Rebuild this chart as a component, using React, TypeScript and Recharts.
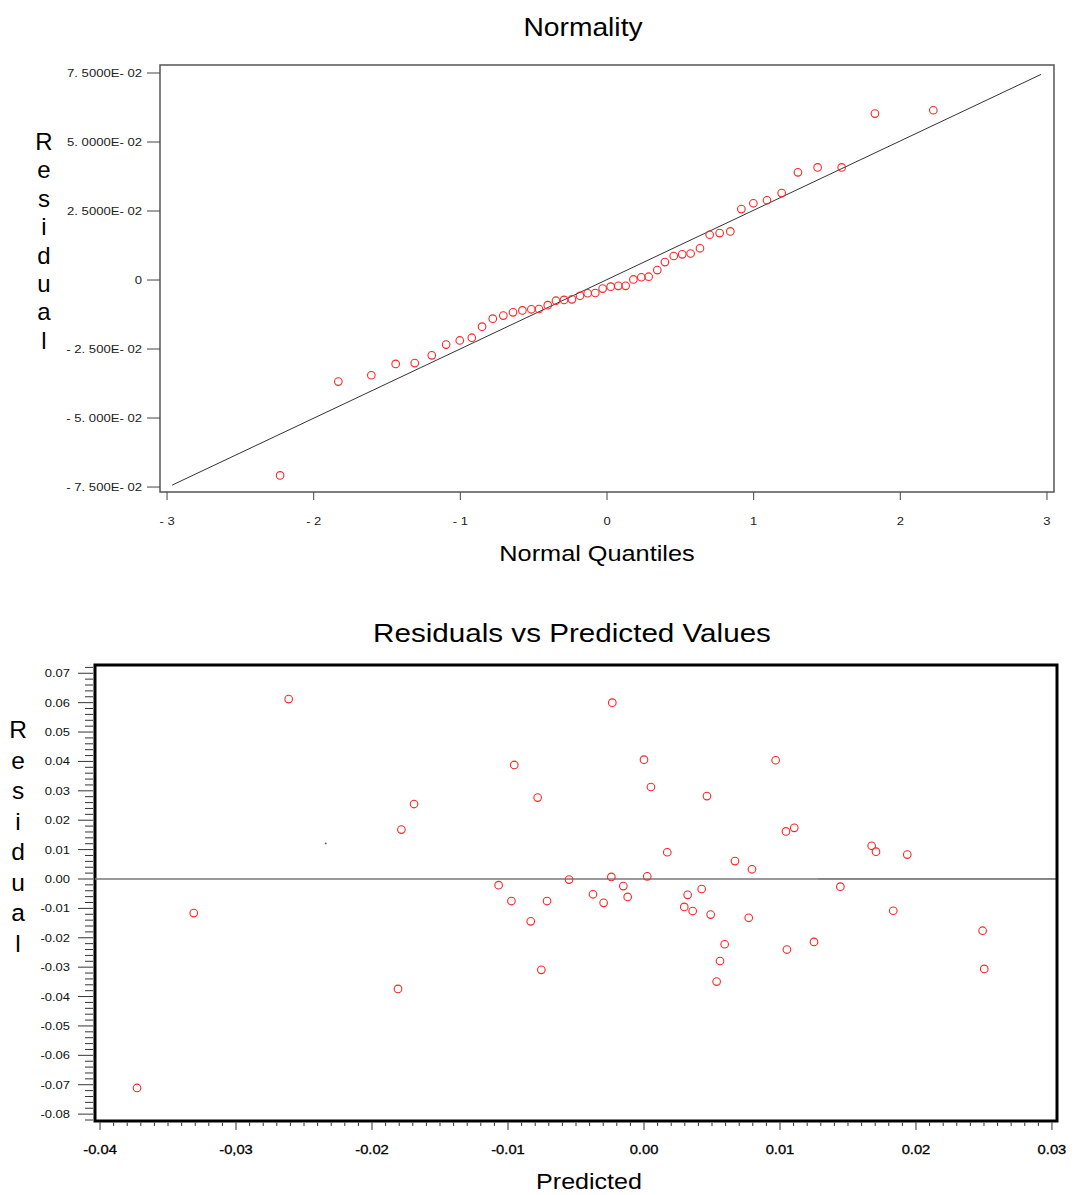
import React from "react";
import { ScatterChart, Scatter, XAxis, YAxis, ReferenceLine, ReferenceArea } from "recharts";

// ---- Normality (normal Q-Q plot) ----
const quantiles = [
  -2.229, -1.832, -1.607, -1.441, -1.311, -1.195, -1.097, -1.004, -0.922, -0.852, -0.779, -0.707,
  -0.641, -0.577, -0.516, -0.464, -0.404, -0.348, -0.293, -0.239, -0.184, -0.132, -0.08, -0.03,
  0.025, 0.077, 0.127, 0.18, 0.234, 0.284, 0.343, 0.395, 0.455, 0.513, 0.57, 0.634,
  0.7, 0.768, 0.841, 0.916, 0.998, 1.091, 1.191, 1.302, 1.436, 1.6, 1.827, 2.225,
];
const qqResiduals = [
  -0.0708, -0.0368, -0.0345, -0.0304, -0.0301, -0.0273, -0.0234, -0.0219, -0.0209, -0.0169, -0.014, -0.0129,
  -0.0117, -0.011, -0.0106, -0.0105, -0.0091, -0.0075, -0.0072, -0.007, -0.0057, -0.0048, -0.0047, -0.0031,
  -0.0024, -0.0021, -0.0021, 0.0002, 0.001, 0.0012, 0.0036, 0.0065, 0.0087, 0.0093, 0.0096, 0.0115,
  0.0164, 0.017, 0.0176, 0.0257, 0.0278, 0.0289, 0.0315, 0.039, 0.0408, 0.0408, 0.0603, 0.0615,
];
const fitLine = [
  { q: -2.965, r: -0.0743 },
  { q: 2.96, r: 0.0745 },
];
const qqXTicks = [-3, -2, -1, 0, 1, 2, 3];
const qqXLabels = ["- 3", "- 2", "- 1", "0", "1", "2", "3"];
const qqYTicks = [0.075, 0.05, 0.025, 0, -0.025, -0.05, -0.075];
const qqYLabels = ["7. 5000E- 02", "5. 0000E- 02", "2. 5000E- 02", "0", "- 2. 500E- 02", "- 5. 000E- 02", "- 7. 500E- 02"];

// ---- Residuals vs Predicted Values ----
const predicted = [
  -0.02613, -0.00954, -0.00782, -0.01691, -0.01784, -0.00551, -0.01069, -0.00975, -0.00713, -0.00833, -0.03311, -0.00755,
  -0.01809, -0.03728, -0.00233, 0.0, 0.00968, 0.00051, 0.00463, 0.01044, 0.01105, 0.01674, 0.01706, 0.01936,
  0.00171, 0.00669, 0.00794, -0.0024, 0.00024, -0.00152, -0.00375, -0.00297, -0.0012, 0.00321, 0.00424, 0.00296,
  0.00358, 0.0049, 0.0077, 0.01444, 0.01833, 0.0249, 0.02502, 0.00593, 0.00559, 0.00534, 0.01051, 0.0125,
];
const residuals = [
  0.0612, 0.0388, 0.0277, 0.0255, 0.0168, -0.0002, -0.0021, -0.0075, -0.0075, -0.0144, -0.0116, -0.0309,
  -0.0374, -0.0711, 0.06, 0.0406, 0.0404, 0.0313, 0.0282, 0.0162, 0.0174, 0.0113, 0.0093, 0.0083,
  0.0091, 0.0061, 0.0033, 0.0007, 0.0009, -0.0024, -0.0052, -0.0081, -0.0061, -0.0054, -0.0034, -0.0095,
  -0.0109, -0.0121, -0.0132, -0.0026, -0.0108, -0.0176, -0.0306, -0.0222, -0.0279, -0.0349, -0.024, -0.0214,
];
const strayMark = [{ p: -0.0234, r: 0.0121 }];
const predXLabels = ["-0.04", "-0,03", "-0.02", "-0.01", "0.00", "0.01", "0.02", "0.03"];
const resYLabels = ["0.07", "0.06", "0.05", "0.04", "0.03", "0.02", "0.01", "0.00", "-0.01", "-0.02", "-0.03", "-0.04", "-0.05", "-0.06", "-0.07", "-0.08"];

const QQ_X: [number, number] = [-3.048, 3.048];
const QQ_Y: [number, number] = [-0.0768, 0.0779];
const PR_X: [number, number] = [-0.04037, 0.03037];
const PR_Y: [number, number] = [-0.08234, 0.07281];

// minor ticks: every 0.001 on x, every 0.002 on y
const predXTicks: number[] = [];
for (let k = -40; k <= 30; k++) predXTicks.push(k / 1000);
const resYTicks: number[] = [];
for (let k = -41; k <= 36; k++) resYTicks.push(k / 500);

const FONT = "'Liberation Sans', Arial, Helvetica, sans-serif";
const RED = "#ff2424";

const qqData = quantiles.map((q, i) => ({ q, r: qqResiduals[i] }));
const prData = predicted.map((p, i) => ({ p, r: residuals[i] }));

function SText({ x, y, size, sx = 1, anchor = "middle", fill = "#000", stroke, children }: any) {
  return (
    <text transform={`translate(${x},${y}) scale(${sx},1)`} fontSize={size} textAnchor={anchor} fill={fill}
      stroke={stroke} strokeWidth={stroke ? 0.3 : undefined} fontFamily={FONT}>
      {children}
    </text>
  );
}

function OpenCircle(p: any) {
  return <circle cx={p.cx} cy={p.cy} r={3.8} fill="none" stroke={RED} strokeWidth={1.1} />;
}

function QQXTick({ x, y, payload }: any) {
  const label = qqXLabels[qqXTicks.indexOf(payload.value)];
  return (
    <g>
      <line x1={x} x2={x} y1={y} y2={y + 8} stroke="#444" />
      <SText x={x} y={y + 33} size={10} sx={1.3} fill="#222">{label}</SText>
    </g>
  );
}

function QQYTick({ x, y, payload }: any) {
  const label = qqYLabels[qqYTicks.indexOf(payload.value)];
  return (
    <g>
      <line x1={x - 13} x2={x} y1={y} y2={y} stroke="#444" />
      <SText x={x - 18} y={y + 3.6} size={10} sx={1.31} anchor="end" fill="#222">{label}</SText>
    </g>
  );
}

function PredXTick({ x, y, payload }: any) {
  const k = Math.round(payload.value * 1000);
  const major = k % 10 === 0;
  return (
    <g>
      <line x1={x} x2={x} y1={y + 1.5} y2={y + (major ? 9 : 5)} stroke="#333" />
      {major && (
        <SText x={x} y={y + 33} size={12.5} sx={1.18} fill="#000" stroke="#000">{predXLabels[(k + 40) / 10]}</SText>
      )}
    </g>
  );
}

function ResYTick({ x, y, payload }: any) {
  const k = Math.round(payload.value * 500);
  const major = k % 5 === 0;
  return (
    <g>
      <line x1={x - (major ? 17 : 10)} x2={x - 2} y1={y} y2={y} stroke="#333" />
      {major && (
        <SText x={x - 25} y={y + 4} size={11} sx={1.18} anchor="end" fill="#111">{resYLabels[(35 - k) / 5]}</SText>
      )}
    </g>
  );
}

const residualLetters = ["R", "e", "s", "i", "d", "u", "a", "l"];

export default function App() {
  return (
    <div style={{ position: "absolute", left: 0, top: 0, width: 1076, height: 1195, background: "#fff", fontFamily: FONT }}>
      <div style={{ position: "absolute", left: 0, top: 0 }}>
        <ScatterChart width={1076} height={600} margin={{ top: 65, right: 22, bottom: 0, left: 0 }}>
          <XAxis type="number" dataKey="q" domain={QQ_X} ticks={qqXTicks} allowDataOverflow height={108}
            axisLine={false} tickLine={false} tickSize={0} tickMargin={0} interval={0} tick={(p: any) => <QQXTick {...p} />} />
          <YAxis type="number" dataKey="r" domain={QQ_Y} ticks={qqYTicks} allowDataOverflow width={160}
            axisLine={false} tickLine={false} tickSize={0} tickMargin={0} interval={0} tick={(p: any) => <QQYTick {...p} />} />
          <ReferenceArea x1={QQ_X[0]} x2={QQ_X[1]} y1={QQ_Y[0]} y2={QQ_Y[1]} fill="none" stroke="#555" strokeWidth={1.5} />
          <ReferenceLine segment={fitLine.map((d) => ({ x: d.q, y: d.r }))} stroke="#333" strokeWidth={1} />
          <Scatter data={qqData} shape={OpenCircle} isAnimationActive={false} />
        </ScatterChart>
      </div>

      <div style={{ position: "absolute", left: 0, top: 600 }}>
        <ScatterChart width={1076} height={595} margin={{ top: 65, right: 19, bottom: 0, left: 0 }}>
          <XAxis type="number" dataKey="p" domain={PR_X} ticks={predXTicks} allowDataOverflow height={74}
            axisLine={false} tickLine={false} tickSize={0} tickMargin={0} interval={0} tick={(p: any) => <PredXTick {...p} />} />
          <YAxis type="number" dataKey="r" domain={PR_Y} ticks={resYTicks} allowDataOverflow width={95}
            axisLine={false} tickLine={false} tickSize={0} tickMargin={0} interval={0} tick={(p: any) => <ResYTick {...p} />} />
          <ReferenceLine segment={[{ x: PR_X[0], y: 0 }, { x: 0.0128, y: 0 }]} stroke="#777" strokeWidth={1.4} />
          <ReferenceLine segment={[{ x: 0.0128, y: 0 }, { x: PR_X[1], y: 0 }]} stroke="#111" strokeWidth={1} />
          <ReferenceArea x1={PR_X[0]} x2={PR_X[1]} y1={PR_Y[0]} y2={PR_Y[1]} fill="none" stroke="#000" strokeWidth={3} />
          <Scatter data={strayMark} shape={(p: any) => <circle cx={p.cx} cy={p.cy} r={0.9} fill="#555" />} isAnimationActive={false} />
          <Scatter data={prData} shape={OpenCircle} isAnimationActive={false} />
        </ScatterChart>
      </div>

      <svg width={1076} height={1195} style={{ position: "absolute", left: 0, top: 0, pointerEvents: "none" }}>
        <SText x={583} y={36} size={25} sx={1.13}>Normality</SText>
        <SText x={597} y={561} size={22} sx={1.15}>Normal Quantiles</SText>
        <SText x={572} y={642} size={26} sx={1.14}>Residuals vs Predicted Values</SText>
        <SText x={589} y={1189} size={22} sx={1.14}>Predicted</SText>
        {residualLetters.map((ch, i) => (
          <SText key={`t${i}`} x={44} y={150 + 28.4 * i} size={24}>{ch}</SText>
        ))}
        {residualLetters.map((ch, i) => (
          <SText key={`b${i}`} x={18} y={738 + 30.5 * i} size={24.5}>{ch}</SText>
        ))}
      </svg>
    </div>
  );
}
